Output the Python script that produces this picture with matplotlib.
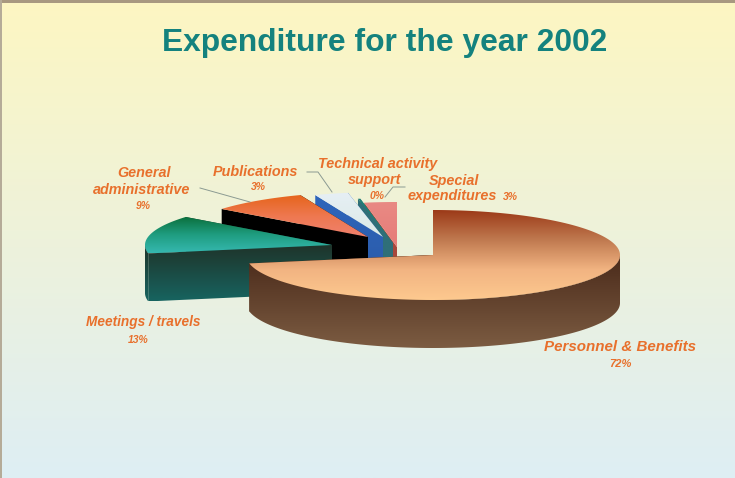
import matplotlib
matplotlib.use('Agg')
import matplotlib.pyplot as plt
import numpy as np
from matplotlib.colors import LinearSegmentedColormap
from matplotlib.patches import Rectangle, PathPatch
from matplotlib.path import Path

# Data, clockwise from 12 o'clock
categories = ['Personnel & Benefits', 'Meetings / travels', 'General administrative',
              'Publications', 'Technical activity support', 'Special expenditures']
shares = [72, 13.7, 8.4, 2.9, 0.2, 2.8]
share_labels = ['72%', '13%', '9%', '3%', '0%', '3%']

# Pie layout in pixels
cx, cy = 433, 255
rx, ry = 187, 45
depth = 48
offsets = [(0, 0), (-101, -10), (-65, -18), (-50, -18), (-40, -12), (-36, -8)]

top_colors = [['#9c3a18', '#c07a50', '#f2b482', '#fdc98f'],
              ['#0a6e3a', '#1f9d80', '#36b8b0'],
              ['#e6651c', '#ee7850', '#f0816e'],
              ['#e6eff5', '#dcebe6'],
              ['#1f7f76', '#1f7f76'],
              ['#e98a84', '#e67c78']]
side_colors = [['#4a2a1a', '#7c5c42'],
               ['#1f3329', '#176460'],
               ['#000000', '#000000'],
               ['#2f66bb', '#2a5aa8'],
               ['#2f6f78', '#2f6f78'],
               ['#a8483c', '#a8483c']]

BG_TOP = '#fdf6c2'
BG_BOTTOM = '#deeef4'
ORANGE = '#e8702c'
LEADER = '#8b9a92'


def gradient(ax, verts, colors, y1, z):
    verts = np.array(verts)
    cmap = LinearSegmentedColormap.from_list('g', colors)
    path = Path(np.vstack([verts, verts[0]]), closed=True)
    im = ax.imshow(np.linspace(0, 1, 256)[:, None], cmap=cmap, aspect='auto',
                   extent=(verts[:, 0].min() - 1, verts[:, 0].max() + 1, y1, verts[:, 1].min()),
                   interpolation='bilinear', zorder=z)
    im.set_clip_path(PathPatch(path, transform=ax.transData))


def draw_wedge(ax, i, hi, lo, z):
    ax_x = cx + offsets[i][0]
    ax_y = cy + offsets[i][1]
    t = np.radians(np.linspace(hi, lo, 300))
    xs = ax_x + rx * np.cos(t)
    ys = ax_y - ry * np.sin(t)
    arc = np.column_stack([xs, ys])
    apex = np.array([ax_x, ax_y])
    down = np.array([0, depth])
    low_y = max(ys.max(), ax_y)

    # hidden cut, visible cut, outer rim, then the top
    side_y1 = low_y + depth
    for p in (arc[-1], arc[0]):
        gradient(ax, [p, apex, apex + down, p + down], side_colors[i], side_y1, z)
    front = arc[np.sin(t) < 0]
    if len(front) > 1:
        gradient(ax, np.vstack([[front[0]], [apex], [front[-1]], front[::-1]]),
                 side_colors[i], side_y1, z)
        gradient(ax, np.vstack([front, (front + down)[::-1]]), side_colors[i], side_y1, z)
    gradient(ax, np.vstack([[apex], arc]), top_colors[i], low_y, z)


fig = plt.figure(figsize=(7.35, 4.78), dpi=100)
ax = fig.add_axes([0, 0, 1, 1])

# Background
bg = LinearSegmentedColormap.from_list('bg', [BG_TOP, BG_BOTTOM])
ax.imshow(np.linspace(0, 1, 256)[:, None], cmap=bg, aspect='auto',
          extent=(0, 735, 478, 0), zorder=0)
ax.add_patch(Rectangle((0, 0), 735, 3, color='#a89880', lw=0, zorder=5))
ax.add_patch(Rectangle((0, 0), 2, 478, color='#b5ab98', lw=0, zorder=5))

# Wedges, back to front
fractions = np.array(shares) / sum(shares)
ends = 90 - 360 * np.cumsum(fractions)
starts = np.r_[90, ends[:-1]]
for i in reversed(range(len(shares))):
    draw_wedge(ax, i, starts[i], ends[i], 10 + len(shares) - i)

# Leader lines
ax.plot([200, 250], [188, 202], color=LEADER, lw=0.7, zorder=20)
ax.plot([307, 318, 332], [172, 172, 192], color=LEADER, lw=0.7, zorder=20)
ax.plot([385, 393, 405], [197, 187, 187], color=LEADER, lw=0.7, zorder=20)

# Labels
font = dict(family='Liberation Sans', style='italic', weight='bold', color=ORANGE,
            ha='center', va='center', zorder=30)
name_size = 10.4
pct_size = 7.5
ax.text(144, 173, 'General', fontsize=name_size, **font)
ax.text(142, 190, 'administrative', fontsize=name_size, **font)
ax.text(143, 206, share_labels[2], fontsize=pct_size, **font)
ax.text(255, 172, categories[3], fontsize=name_size, **font)
ax.text(258, 187, share_labels[3], fontsize=pct_size, **font)
ax.text(378, 164, 'Technical activity', fontsize=name_size, **font)
ax.text(375, 180, 'support', fontsize=name_size, **font)
ax.text(377, 196, share_labels[4], fontsize=pct_size, **font)
ax.text(454, 181, 'Special', fontsize=name_size, **font)
ax.text(452, 196, 'expenditures', fontsize=name_size, **font)
ax.text(510, 197, share_labels[5], fontsize=pct_size, **font)
ax.text(143, 322, categories[1], fontsize=9.8, **font)
ax.text(138, 340, share_labels[1], fontsize=pct_size, **font)
ax.text(620, 347, categories[0], fontsize=10.9, **font)
ax.text(620, 364, share_labels[0], fontsize=pct_size + 0.5, **font)

ax.text(385, 43, 'Expenditure for the year 2002', family='Liberation Sans', weight='bold',
        color='#14827e', fontsize=22.9, ha='center', va='center', zorder=30)

ax.set_xlim(0, 735)
ax.set_ylim(478, 0)
ax.axis('off')
plt.savefig('out.png', dpi=100)
plt.close()
